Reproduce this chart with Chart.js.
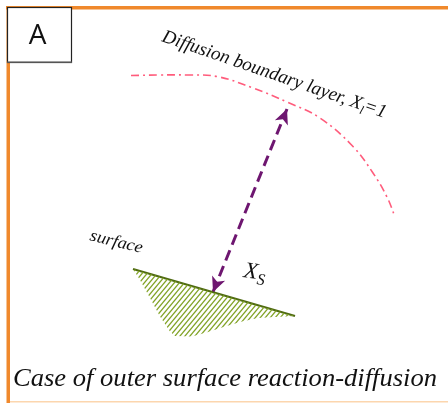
<!DOCTYPE html>
<html lang="en">
<head>
<meta charset="UTF-8">
<title>Case of outer surface reaction-diffusion</title>
<script src="https://cdn.jsdelivr.net/npm/chart.js@4"></script>
<style>
    html, body { margin: 0; padding: 0; background: #fff; }
    #wrap { width: 448px; height: 403px; position: relative; }
</style>
</head>
<body>
<div id="wrap"><canvas id="sketch" width="448" height="403"></canvas></div>
<script>
// diffusion boundary layer, X_l = 1 (dash-dot curve)
const boundaryX = [131, 160, 187, 217, 253, 288, 320, 353, 373, 387, 395];
const boundaryY = [75.5, 75, 75, 76.5, 88, 102.5, 118, 146.5, 173, 197, 217];

// reaction surface (solid line)
const surfaceX = [133, 295];
const surfaceY = [269, 316];

// hatched body under the surface: top edge, then lower outline back to start
const bodyX = [133, 295, 275, 258, 242, 225, 208, 192, 175, 170, 160, 150, 140, 133];
const bodyY = [269, 316, 317, 318, 321.5, 326.5, 332, 336.5, 336, 331.5, 316.5, 298, 280, 269];

// double arrow X_S: surface end, boundary end
const arrowX = [213, 287];
const arrowY = [292, 109];

const FONT = '"Liberation Serif", "DejaVu Serif", serif';

function hatchPattern() {
    const c = document.createElement('canvas');
    c.width = 5; c.height = 6;
    const g = c.getContext('2d');
    g.strokeStyle = '#82a326';
    g.lineWidth = 1.3;
    [-5, 0, 5].forEach(off => {
        g.beginPath();
        g.moveTo(off - 1, 7.2);
        g.lineTo(off + 6, -1.2);
        g.stroke();
    });
    return g.createPattern(c, 'repeat');
}

function toPts(xs, ys) {
    return xs.map((x, i) => ({ x: x, y: ys[i] }));
}

// text pieces drawn one after another along a rotated baseline,
// optionally stretched to a given overall width
function drawRich(ctx, x, y, angle, parts, fitWidth) {
    ctx.save();
    ctx.translate(x, y);
    ctx.rotate(angle * Math.PI / 180);
    ctx.textBaseline = 'alphabetic';
    ctx.fillStyle = '#111';
    let total = 0;
    parts.forEach(p => { ctx.font = p.font; total += ctx.measureText(p.t).width; });
    if (fitWidth) ctx.scale(fitWidth / total, 1);
    let cx = 0;
    parts.forEach(p => {
        ctx.font = p.font;
        ctx.fillText(p.t, cx, p.dy || 0);
        cx += ctx.measureText(p.t).width;
    });
    ctx.restore();
}

const framePlugin = {
    id: 'frame',
    beforeDraw(chart) {
        const ctx = chart.ctx;
        ctx.save();
        ctx.fillStyle = '#fff';
        ctx.fillRect(0, 0, chart.width, chart.height);
        ctx.fillStyle = '#f0892c';
        ctx.fillRect(6, 6, chart.width - 6, 3.5);
        ctx.fillRect(6.5, 6, 3.5, chart.height - 6);
        ctx.fillStyle = '#fcd6ae';
        ctx.fillRect(10, 401, chart.width - 10, 1.5);
        ctx.restore();
    },
    afterDraw(chart) {
        const ctx = chart.ctx;
        ctx.save();
        // panel letter box
        ctx.fillStyle = '#fff';
        ctx.fillRect(7.5, 7.5, 64, 55);
        ctx.strokeStyle = '#222';
        ctx.lineWidth = 1.2;
        ctx.strokeRect(7.5, 7.5, 64, 55);
        ctx.fillStyle = '#555';
        ctx.fillRect(7, 61.5, 65, 1.5);
        ctx.fillStyle = '#111';
        ctx.font = '28px "Open Sans", "Noto Sans", sans-serif';
        ctx.textAlign = 'center';
        ctx.textBaseline = 'middle';
        ctx.fillText('A', 37.5, 36);
        ctx.restore();
    }
};

const markPlugin = {
    id: 'marks',
    afterDatasetsDraw(chart) {
        const ctx = chart.ctx;
        const xs = chart.scales.x, ys = chart.scales.y;
        const p0 = { x: xs.getPixelForValue(arrowX[0]), y: ys.getPixelForValue(arrowY[0]) };
        const p1 = { x: xs.getPixelForValue(arrowX[1]), y: ys.getPixelForValue(arrowY[1]) };
        const head = (tip, from) => {
            const a = Math.atan2(tip.y - from.y, tip.x - from.x);
            const len = 15, half = 7;
            const bx = tip.x - len * Math.cos(a), by = tip.y - len * Math.sin(a);
            const nx = -Math.sin(a) * half, ny = Math.cos(a) * half;
            ctx.beginPath();
            ctx.moveTo(tip.x, tip.y);
            ctx.lineTo(bx + nx, by + ny);
            ctx.lineTo(tip.x - 11 * Math.cos(a), tip.y - 11 * Math.sin(a));
            ctx.lineTo(bx - nx, by - ny);
            ctx.closePath();
            ctx.fill();
        };
        ctx.save();
        ctx.fillStyle = '#6e1670';
        head(p0, p1);
        head(p1, p0);
        ctx.restore();

        drawRich(ctx, 161, 41, 19, [
            { t: 'Diffusion boundary layer, X', font: 'italic 19px ' + FONT },
            { t: 'l', font: 'italic 12px ' + FONT, dy: 4 },
            { t: '=1', font: 'italic 19px ' + FONT }
        ], 236);
        drawRich(ctx, 89, 240, 14, [
            { t: 'surface', font: 'italic 17px ' + FONT }
        ], 54);
        drawRich(ctx, 243, 277, 8, [
            { t: 'X', font: 'italic 23px ' + FONT },
            { t: 'S', font: 'italic 16px ' + FONT, dy: 5 }
        ]);
        drawRich(ctx, 13, 386, 0, [
            { t: 'Case of outer surface reaction-diffusion', font: 'italic 25px ' + FONT }
        ], 424);
    }
};

new Chart(document.getElementById('sketch'), {
    type: 'scatter',
    data: {
        datasets: [
            {
                label: 'body',
                data: toPts(bodyX, bodyY),
                showLine: true,
                fill: 'shape',
                backgroundColor: hatchPattern(),
                borderWidth: 0,
                borderColor: 'rgba(0,0,0,0)',
                pointRadius: 0
            },
            {
                label: 'surface',
                data: toPts(surfaceX, surfaceY),
                showLine: true,
                borderColor: '#4f6a12',
                borderWidth: 2.2,
                pointRadius: 0
            },
            {
                label: 'boundary layer',
                data: toPts(boundaryX, boundaryY),
                showLine: true,
                borderColor: '#ff5c7c',
                borderWidth: 1.6,
                borderDash: [8, 4, 2, 4],
                tension: 0.4,
                pointRadius: 0
            },
            {
                label: 'X_S',
                data: toPts(arrowX, arrowY),
                showLine: true,
                borderColor: '#6e1670',
                borderWidth: 3,
                borderDash: [11, 6],
                pointRadius: 0
            }
        ]
    },
    options: {
        responsive: false,
        animation: false,
        layout: { padding: 0 },
        plugins: {
            legend: { display: false },
            tooltip: { enabled: false }
        },
        scales: {
            x: { type: 'linear', min: 0, max: 448, display: false },
            y: { type: 'linear', min: 0, max: 403, reverse: true, display: false }
        }
    },
    plugins: [framePlugin, markPlugin]
});
</script>
</body>
</html>
